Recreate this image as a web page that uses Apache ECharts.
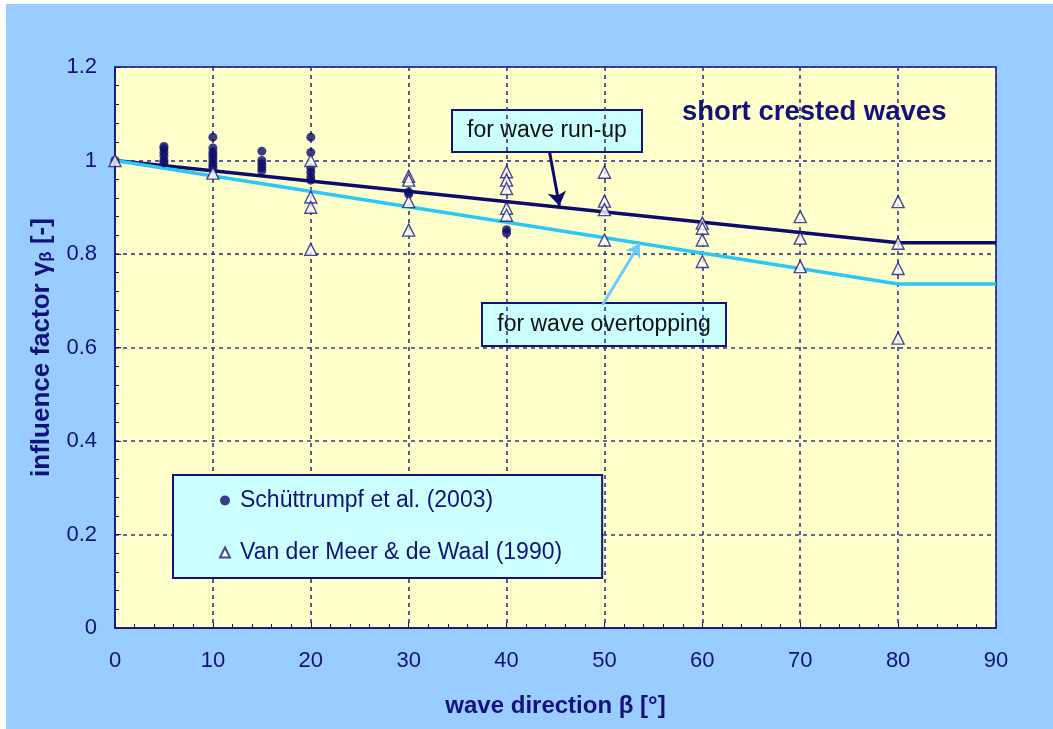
<!DOCTYPE html>
<html>
<head>
<meta charset="utf-8">
<script src="https://cdn.jsdelivr.net/npm/echarts@6/dist/echarts.min.js"></script>
<style>
html,body{margin:0;padding:0;background:#ffffff;}
#c{position:absolute;left:6px;top:4px;width:1047px;height:725px;}
</style>
</head>
<body>
<div id="c"></div>
<script>
// ---- data ----
const xTicks = [0, 10, 20, 30, 40, 50, 60, 70, 80, 90];
const yTicks = [0, 0.2, 0.4, 0.6, 0.8, 1, 1.2];

// Schüttrumpf et al. (2003) – filled dots
const schBeta  = [0, 5, 5, 5, 5, 5, 5, 10, 10, 10, 10, 10, 10, 10, 10, 15, 15, 15, 15, 15, 20, 20, 20, 20, 20, 20, 30, 30, 40, 40];
const schGamma = [1.0, 1.03, 1.025, 1.017, 1.01, 1.0, 0.995, 1.05, 1.027, 1.018, 1.012, 1.005, 0.997, 0.99, 0.984, 1.02, 1.0, 0.993, 0.985, 0.978, 1.05, 1.017, 0.984, 0.975, 0.965, 0.958, 0.933, 0.928, 0.852, 0.845];

// Van der Meer & de Waal (1990) – open triangles
const vdmBeta  = [0, 10, 20, 20, 20, 20, 30, 30, 30, 30, 40, 40, 40, 40, 40, 50, 50, 50, 50, 60, 60, 60, 60, 70, 70, 70, 80, 80, 80, 80];
const vdmGamma = [1.0, 0.973, 1.0, 0.922, 0.90, 0.81, 0.966, 0.958, 0.912, 0.851, 0.976, 0.958, 0.94, 0.898, 0.883, 0.975, 0.913, 0.895, 0.83, 0.866, 0.855, 0.83, 0.784, 0.88, 0.834, 0.773, 0.912, 0.823, 0.769, 0.62];

// design lines
const runupBeta   = [0, 80, 90];
const runupGamma  = [1.0, 0.824, 0.824];
const overBeta    = [0, 80, 90];
const overGamma   = [1.0, 0.736, 0.736];

// annotation arrows (data coordinates: [beta, gamma])
const runupArrow = [[44.4, 1.017], [45.4, 0.903]];
const overArrow  = [[49.8, 0.691], [53.6, 0.822]];

const zip = (a, b) => a.map((v, i) => [v, b[i]]);

const NAVY = '#12127a';
const FONT = '"Liberation Sans", Arial, sans-serif';

const chart = echarts.init(document.getElementById('c'), null, {renderer: 'canvas'});
chart.setOption({
  backgroundColor: '#99ccff',
  animation: false,
  textStyle: {fontFamily: FONT},
  title: {
    text: 'short crested waves',
    left: 671, top: 89,
    textStyle: {fontSize: 27.5, fontWeight: 'bold', color: NAVY, fontFamily: FONT}
  },
  grid: {
    left: 109, right: 57, top: 63, bottom: 101,
    show: true, backgroundColor: '#ffffcc', borderColor: NAVY, borderWidth: 1.5
  },
  legend: {
    orient: 'vertical',
    left: 167, top: 471,
    padding: [14, 40, 14, 46],
    itemGap: 29,
    itemWidth: 10, itemHeight: 10,
    backgroundColor: '#ccffff', borderColor: NAVY, borderWidth: 2,
    textStyle: {fontSize: 23, color: NAVY, fontFamily: FONT, padding: [0, 0, 0, 5]},
    data: ['Schüttrumpf et al. (2003)', 'Van der Meer & de Waal (1990)']
  },
  xAxis: {
    type: 'value', min: 0, max: 90, interval: 10,
    name: 'wave direction β [°]', nameLocation: 'middle', nameGap: 66,
    nameTextStyle: {fontSize: 24, fontWeight: 'bold', color: NAVY, fontFamily: FONT},
    axisLine: {show: true, lineStyle: {color: NAVY, width: 1.5}},
    axisTick: {show: true, inside: true, length: 6, lineStyle: {color: NAVY}},
    minorTick: {show: true, splitNumber: 5, length: 4, lineStyle: {color: NAVY}},
    axisLabel: {fontSize: 22, color: NAVY, margin: 22, fontFamily: FONT,
      formatter: v => xTicks.includes(v) ? String(v) : ''},
    splitLine: {show: true, lineStyle: {color: '#34348a', type: [4, 4], width: 1.6}}
  },
  yAxis: {
    type: 'value', min: 0, max: 1.2, interval: 0.2,
    name: 'influence factor γ{s|β} [-]', nameLocation: 'middle', nameGap: 60, nameRotate: 90,
    nameTextStyle: {fontSize: 26, fontWeight: 'bold', color: NAVY, fontFamily: FONT,
      rich: {s: {fontSize: 17, fontWeight: 'bold', color: NAVY, verticalAlign: 'bottom', padding: [9, 0, 0, 0], fontFamily: FONT}}},
    axisLine: {show: true, lineStyle: {color: NAVY, width: 1.5}},
    axisTick: {show: true, inside: true, length: 6, lineStyle: {color: NAVY}},
    minorTick: {show: true, splitNumber: 5, length: 4, lineStyle: {color: NAVY}},
    axisLabel: {fontSize: 22, color: NAVY, margin: 18, fontFamily: FONT,
      formatter: v => { const t = yTicks.find(y => Math.abs(y - v) < 1e-9); return t === undefined ? '' : String(t); }},
    splitLine: {show: true, lineStyle: {color: '#34348a', type: [4, 4], width: 1.6}}
  },
  graphic: [
    {type: 'group', z: 10, children: [
      {type: 'rect', shape: {x: 446, y: 106, width: 190, height: 42},
       style: {fill: '#ccffff', stroke: NAVY, lineWidth: 2}},
      {type: 'text', x: 541, y: 127,
       style: {text: 'for wave run-up', fill: '#111111', font: '23px ' + FONT, textAlign: 'center', textVerticalAlign: 'middle'}}
    ]},
    {type: 'group', z: 10, children: [
      {type: 'rect', shape: {x: 476, y: 299, width: 244, height: 43},
       style: {fill: '#ccffff', stroke: NAVY, lineWidth: 2}},
      {type: 'text', x: 598, y: 321,
       style: {text: 'for wave overtopping', fill: '#111111', font: '23px ' + FONT, textAlign: 'center', textVerticalAlign: 'middle'}}
    ]}
  ],
  series: [
    {
      name: 'run-up', type: 'line', data: zip(runupBeta, runupGamma),
      showSymbol: false, symbol: 'none', silent: true, z: 2,
      lineStyle: {color: '#0c0c6a', width: 3.5},
      markLine: {
        silent: true, symbol: ['none', 'arrow'], symbolSize: 14,
        label: {show: false},
        lineStyle: {color: '#0c0c6a', width: 3, type: 'solid'},
        data: [[{coord: runupArrow[0]}, {coord: runupArrow[1]}]]
      }
    },
    {
      name: 'overtopping', type: 'line', data: zip(overBeta, overGamma),
      showSymbol: false, symbol: 'none', silent: true, z: 2,
      lineStyle: {color: '#2ec6f2', width: 3.5},
      markLine: {
        silent: true, symbol: ['none', 'arrow'], symbolSize: 13,
        label: {show: false},
        lineStyle: {color: '#66ccff', width: 3, type: 'solid'},
        data: [[{coord: overArrow[0]}, {coord: overArrow[1]}]]
      }
    },
    {
      name: 'Schüttrumpf et al. (2003)', type: 'scatter', data: zip(schBeta, schGamma),
      symbol: 'circle', symbolSize: 9, z: 3,
      itemStyle: {color: '#0c0c6a'}
    },
    {
      name: 'Van der Meer & de Waal (1990)', type: 'scatter', data: zip(vdmBeta, vdmGamma),
      symbol: 'triangle', symbolSize: 12, z: 4,
      itemStyle: {color: '#ffffff', borderColor: '#1a1a80', borderWidth: 1.4}
    }
  ]
});
</script>
</body>
</html>
